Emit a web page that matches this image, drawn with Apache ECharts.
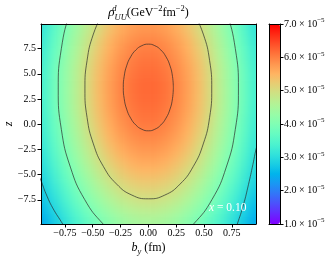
<!DOCTYPE html>
<html><head><meta charset="utf-8">
<script src="https://cdn.jsdelivr.net/npm/echarts@6/dist/echarts.min.js"></script>
<style>html,body{margin:0;padding:0;background:#fff}#c{width:335px;height:262px}</style>
</head><body><div id="c"></div>
<script>
// ---- data (rho values in units of 1e-5 GeV^-2 fm^-2) ----
const bVals = [-0.95,-0.85,-0.75,-0.65,-0.55,-0.45,-0.35,-0.25,-0.15,-0.05,0.05,0.15,0.25,0.35,0.45,0.55,0.65,0.75,0.85,0.95];
const zVals = [-9.5,-8.5,-7.5,-6.5,-5.5,-4.5,-3.5,-2.5,-1.5,-0.5,0.5,1.5,2.5,3.5,4.5,5.5,6.5,7.5,8.5,9.5];
const rhoRows = [
 [2.45,2.77,3.09,3.40,3.68,3.94,4.16,4.33,4.45,4.51,4.51,4.45,4.33,4.16,3.94,3.68,3.40,3.09,2.77,2.45],
 [2.57,2.90,3.24,3.56,3.86,4.13,4.36,4.54,4.66,4.73,4.73,4.66,4.54,4.36,4.13,3.86,3.56,3.24,2.90,2.57],
 [2.69,3.03,3.38,3.72,4.03,4.31,4.55,4.74,4.87,4.94,4.94,4.87,4.74,4.55,4.31,4.03,3.72,3.38,3.03,2.69],
 [2.79,3.15,3.51,3.86,4.19,4.48,4.73,4.93,5.06,5.13,5.13,5.06,4.93,4.73,4.48,4.19,3.86,3.51,3.15,2.79],
 [2.89,3.27,3.64,4.00,4.34,4.65,4.90,5.11,5.25,5.32,5.32,5.25,5.11,4.90,4.65,4.34,4.00,3.64,3.27,2.89],
 [2.99,3.37,3.76,4.13,4.48,4.80,5.06,5.27,5.42,5.49,5.49,5.42,5.27,5.06,4.80,4.48,4.13,3.76,3.37,2.99],
 [3.07,3.47,3.87,4.25,4.61,4.93,5.21,5.42,5.57,5.65,5.65,5.57,5.42,5.21,4.93,4.61,4.25,3.87,3.47,3.07],
 [3.15,3.56,3.96,4.36,4.72,5.05,5.34,5.56,5.71,5.79,5.79,5.71,5.56,5.34,5.05,4.72,4.36,3.96,3.56,3.15],
 [3.21,3.63,4.05,4.45,4.82,5.16,5.45,5.67,5.83,5.91,5.91,5.83,5.67,5.45,5.16,4.82,4.45,4.05,3.63,3.21],
 [3.27,3.69,4.11,4.52,4.90,5.25,5.54,5.77,5.93,6.01,6.01,5.93,5.77,5.54,5.25,4.90,4.52,4.11,3.69,3.27],
 [3.31,3.74,4.17,4.58,4.97,5.32,5.61,5.84,6.00,6.09,6.09,6.00,5.84,5.61,5.32,4.97,4.58,4.17,3.74,3.31],
 [3.34,3.78,4.21,4.63,5.02,5.37,5.67,5.90,6.06,6.14,6.14,6.06,5.90,5.67,5.37,5.02,4.63,4.21,3.78,3.34],
 [3.36,3.80,4.23,4.65,5.04,5.40,5.70,5.93,6.10,6.18,6.18,6.10,5.93,5.70,5.40,5.04,4.65,4.23,3.80,3.36],
 [3.37,3.80,4.24,4.66,5.05,5.41,5.71,5.94,6.11,6.19,6.19,6.11,5.94,5.71,5.41,5.05,4.66,4.24,3.80,3.37],
 [3.36,3.80,4.23,4.65,5.04,5.40,5.70,5.93,6.10,6.18,6.18,6.10,5.93,5.70,5.40,5.04,4.65,4.23,3.80,3.36],
 [3.34,3.78,4.21,4.63,5.02,5.37,5.67,5.90,6.06,6.14,6.14,6.06,5.90,5.67,5.37,5.02,4.63,4.21,3.78,3.34],
 [3.31,3.74,4.17,4.58,4.97,5.32,5.61,5.84,6.00,6.09,6.09,6.00,5.84,5.61,5.32,4.97,4.58,4.17,3.74,3.31],
 [3.27,3.69,4.11,4.52,4.90,5.25,5.54,5.77,5.93,6.01,6.01,5.93,5.77,5.54,5.25,4.90,4.52,4.11,3.69,3.27],
 [3.21,3.63,4.05,4.45,4.82,5.16,5.45,5.67,5.83,5.91,5.91,5.83,5.67,5.45,5.16,4.82,4.45,4.05,3.63,3.21],
 [3.15,3.56,3.96,4.36,4.72,5.05,5.34,5.56,5.71,5.79,5.79,5.71,5.56,5.34,5.05,4.72,4.36,3.96,3.56,3.15]
];
// contour lines: [b_y, z]
const contour6 = [[0.225,3.65],[0.217,4.76],[0.195,5.80],[0.159,6.69],[0.1125,7.37],[0.058,7.80],[0,7.95],[-0.058,7.80],[-0.1125,7.37],[-0.159,6.69],[-0.195,5.80],[-0.217,4.76],[-0.225,3.65],[-0.217,2.54],[-0.195,1.50],[-0.159,0.61],[-0.1125,-0.07],[-0.058,-0.50],[0,-0.65],[0.058,-0.50],[0.1125,-0.07],[0.159,0.61],[0.195,1.50],[0.217,2.54],[0.225,3.65]];
const contour5 = [[0.403,11.21],[0.494,8.95],[0.551,6.32],[0.570,3.50],[0.551,0.68],[0.494,-1.95],[0.403,-4.21],[0.285,-5.94],[0.148,-7.03],[0,-7.40],[-0.148,-7.03],[-0.285,-5.94],[-0.403,-4.21],[-0.494,-1.95],[-0.551,0.68],[-0.570,3.50],[-0.551,6.32],[-0.494,8.95],[-0.403,11.21]];
const contour4R = [[0.620,13.47],[0.701,11.25],[0.782,7.51],[0.81,3.5],[0.782,-0.51],[0.701,-4.25],[0.573,-7.46],[0.405,-9.92],[0.277,-11.07]];
const contour4L = [[-0.620,13.47],[-0.701,11.25],[-0.782,7.51],[-0.81,3.5],[-0.782,-0.51],[-0.701,-4.25],[-0.573,-7.46],[-0.405,-9.92],[-0.277,-11.07]];
const contour3R = [[0.99,-1.7],[0.97,-2.4],[0.94,-4.0],[0.90,-6.0],[0.855,-8.0],[0.80,-9.9],[0.78,-10.5]];
const contour3L = [[-0.99,-5.0],[-0.965,-5.6],[-0.92,-6.9],[-0.86,-8.3],[-0.77,-9.9],[-0.74,-10.5]];
const xTicks = [-0.75,-0.5,-0.25,0,0.25,0.5,0.75];
const yTicks = [-7.5,-5,-2.5,0,2.5,5,7.5];
const cbTicks = [1,2,3,4,5,6,7];

// ---- layout / style ----
const XMIN=-0.965, XMAX=0.968, YMIN=-9.9, YMAX=9.95;
const CELL_W=0.1, CELL_H=1.0, EDGE_PAD=14;
const SERIF='"Liberation Serif","Times New Roman",serif';
const rainbow=['#8000ff','#6628fe','#4d4ffc','#3374f8','#1a96f3','#00b4ec','#1acee3','#33e3da','#4df3ce','#66fcc2','#80ffb4','#99fca6','#b3f396','#cce385','#e6ce74','#ffb462','#ff964f','#ff743b','#ff4f28','#ff2814','#ff0000'];
const minus = s => String(s).replace('-', '\u2212');

const cells=[];
rhoRows.forEach((row,i)=>row.forEach((v,j)=>cells.push([bVals[j],zVals[i],v])));

const lineStyle={color:'rgba(40,40,40,0.85)',width:0.8};
const contourSeries=[contour6,contour5,contour4R,contour4L,contour3R,contour3L].map(d=>({
  type:'line',xAxisIndex:0,yAxisIndex:0,data:d,smooth:true,symbol:'none',
  lineStyle:lineStyle,clip:true,silent:true,z:5,zlevel:1
}));
const frameAxis=(extra)=>Object.assign({type:'value',axisLine:{show:true,onZero:false,lineStyle:{color:'#000',width:1}},
  axisTick:{show:false},axisLabel:{show:false},splitLine:{show:false},z:10,zlevel:1},extra);

const chart=echarts.init(document.getElementById('c'),null,{renderer:'canvas'});
chart.setOption({
  animation:false,
  textStyle:{fontFamily:SERIF},
  grid:[{left:41,top:24,width:215,height:200,zlevel:1,containLabel:false,outerBoundsMode:'none'},
        {left:269,top:24,width:11,height:200,zlevel:1,containLabel:false,outerBoundsMode:'none'}],
  xAxis:[
    {gridIndex:0,type:'value',min:XMIN,max:XMAX,position:'bottom',zlevel:1,
     axisLine:{show:true,onZero:false,lineStyle:{color:'#000',width:1}},
     axisTick:{show:true,length:3.5,customValues:xTicks,lineStyle:{color:'#000'}},
     axisLabel:{customValues:xTicks,color:'#000',fontSize:10,fontFamily:SERIF,margin:4,formatter:v=>minus(v.toFixed(2))},
     splitLine:{show:false},
     name:'{i|b}{s|y}{t| (fm)}',nameLocation:'middle',nameGap:16,nameMoveOverlap:false,
     nameTextStyle:{color:'#000',rich:{i:{fontSize:12,fontStyle:'italic',fontFamily:SERIF,lineHeight:16,verticalAlign:'middle'},s:{fontSize:8.5,fontStyle:'italic',fontFamily:SERIF,lineHeight:16,verticalAlign:'bottom'},t:{fontSize:12,fontFamily:SERIF,lineHeight:16,verticalAlign:'middle'}}},
     z:10},
    frameAxis({gridIndex:0,min:XMIN,max:XMAX,position:'top'}),
    frameAxis({gridIndex:1,min:0,max:1,position:'bottom'}),
    frameAxis({gridIndex:1,min:0,max:1,position:'top'})
  ],
  yAxis:[
    {gridIndex:0,type:'value',min:YMIN,max:YMAX,position:'left',zlevel:1,
     axisLine:{show:true,onZero:false,lineStyle:{color:'#000',width:1}},
     axisTick:{show:true,length:3.5,customValues:yTicks,lineStyle:{color:'#000'}},
     axisLabel:{customValues:yTicks,color:'#000',fontSize:10,fontFamily:SERIF,margin:5,formatter:v=>minus(v.toFixed(1))},
     splitLine:{show:false},
     name:'z',nameLocation:'middle',nameGap:26,nameRotate:90,nameMoveOverlap:false,
     nameTextStyle:{color:'#000',fontSize:12,fontStyle:'italic',fontFamily:SERIF},
     z:10},
    frameAxis({gridIndex:0,min:YMIN,max:YMAX,position:'right'}),
    {gridIndex:1,type:'value',min:1,max:7,interval:1,position:'right',zlevel:1,
     axisLine:{show:true,onZero:false,lineStyle:{color:'#000',width:1}},
     axisTick:{show:true,length:3.5,customValues:cbTicks,lineStyle:{color:'#000'}},
     axisLabel:{customValues:cbTicks,color:'#000',fontSize:10,fontFamily:SERIF,margin:4,
       formatter:v=>v.toFixed(1)+' \u00d7 10{s|\u22125}',
       rich:{s:{fontSize:7,fontFamily:SERIF,color:'#000',verticalAlign:'top',lineHeight:14}}},
     splitLine:{show:false},z:10},
    frameAxis({gridIndex:1,min:1,max:7,position:'left'})
  ],
  visualMap:{type:'continuous',min:1,max:7,dimension:2,seriesIndex:0,show:true,zlevel:1,
    left:269,top:24,itemWidth:11,itemHeight:200,padding:0,calculable:false,hoverLink:false,
    inRange:{color:rainbow},text:null,showLabel:false},
  graphic:{elements:[
    {type:'text',x:148.5,y:13,z:20,zlevel:1,style:{
      text:'{r|\u03c1}{d|d}{u|UU}{t|(GeV}{s|\u22122}{t|fm}{s|\u22122}{t|)}',
      align:'center',verticalAlign:'middle',fill:'#000',
      rich:{
        r:{fontSize:13,fontStyle:'italic',fontFamily:SERIF,lineHeight:18,verticalAlign:'middle'},
        d:{fontSize:8.5,fontStyle:'italic',fontFamily:SERIF,lineHeight:9,verticalAlign:'top',width:0.1},
        u:{fontSize:8.5,fontStyle:'italic',fontFamily:SERIF,lineHeight:9,verticalAlign:'bottom'},
        t:{fontSize:12,fontFamily:SERIF,lineHeight:18,verticalAlign:'middle'},
        s:{fontSize:8.5,fontFamily:SERIF,lineHeight:12,verticalAlign:'top'}
      }}},
    {type:'text',x:209,y:208,z:20,zlevel:1,style:{
      text:'{i|x}{t| = 0.10}',align:'left',verticalAlign:'middle',fill:'#fff',
      rich:{i:{fontSize:11.5,fontStyle:'italic',fontFamily:SERIF,fill:'#fff',color:'#fff'},t:{fontSize:11.5,fontFamily:SERIF,fill:'#fff',color:'#fff'}}}}
  ]},
  series:[
    {type:'custom',xAxisIndex:0,yAxisIndex:0,data:cells,silent:true,z:1,zlevel:0,clip:false,
     renderItem:function(params,api){
       const b=api.value(0),zz=api.value(1);
       const p0=api.coord([b-CELL_W/2,zz+CELL_H/2]);
       const p1=api.coord([b+CELL_W/2,zz-CELL_H/2]);
       let x0=p0[0], x1=p1[0]+0.6, y0=p0[1]-0.6, y1=p1[1];
       // extend the outermost cells past the frame so the smoothing has no empty border
       if(b===bVals[0]) x0-=EDGE_PAD;
       if(b===bVals[bVals.length-1]) x1+=EDGE_PAD;
       if(zz===zVals[zVals.length-1]) y0-=EDGE_PAD;
       if(zz===zVals[0]) y1+=EDGE_PAD;
       return {type:'rect',shape:{x:x0,y:y0,width:x1-x0,height:y1-y0},style:{fill:api.visual('color')}};
     }}
  ].concat(contourSeries)
});
// smooth the cell layer (like an interpolated image) and clip it to the plot frame
const rect=chart.getModel().getComponent('grid',0).coordinateSystem.getRect();
const layer=chart.getZr().painter.getLayer(0);
if(layer&&layer.dom){
  layer.dom.style.filter='blur(4px)';
  layer.dom.style.clipPath='inset('+rect.y+'px '+(335-rect.x-rect.width)+'px '+(262-rect.y-rect.height)+'px '+rect.x+'px)';
}
</script></body></html>
